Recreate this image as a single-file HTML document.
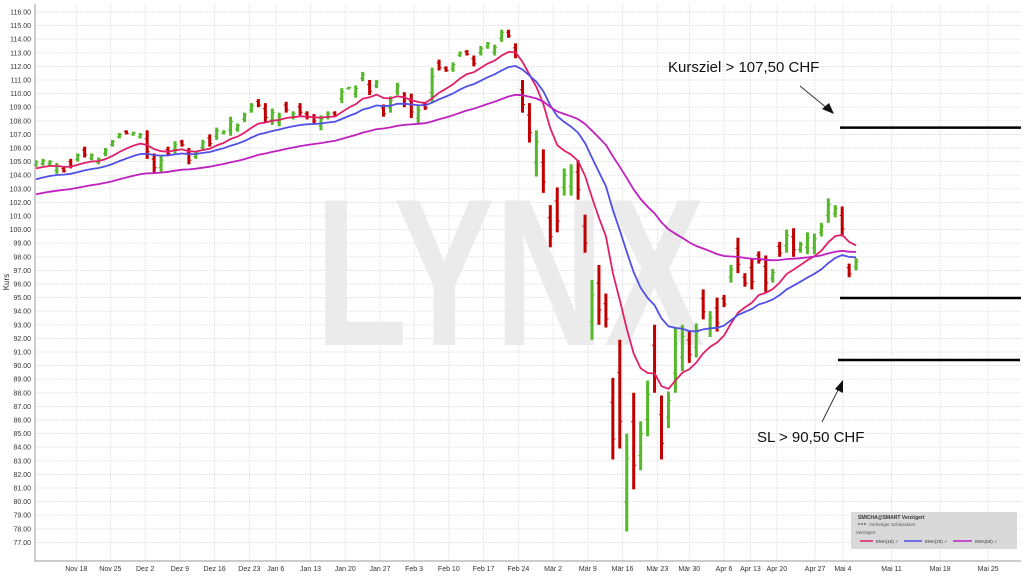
<!DOCTYPE html>
<html><head><meta charset="utf-8">
<style>
html,body{margin:0;padding:0;background:#fff;}
svg{display:block;font-family:"Liberation Sans",sans-serif;}
</style></head>
<body>
<svg id="chart" width="1024" height="576" viewBox="0 0 1024 576" xmlns="http://www.w3.org/2000/svg">
<rect x="0" y="0" width="1024" height="576" fill="#fff"/>
<g id="grid"></g>
<text x="510" y="345" font-size="210" font-weight="bold" fill="#ebebeb" text-anchor="middle" textLength="390" lengthAdjust="spacingAndGlyphs">LYNX</text>
<g id="bars"></g>
<g id="emas"></g>
<g id="axes"></g>
<text x="9" y="282" font-size="8" fill="#333" transform="rotate(-90 9 282)" text-anchor="middle">Kurs</text>
<line x1="840" y1="127.6" x2="1021" y2="127.6" stroke="#000" stroke-width="2.5"/>
<line x1="840" y1="298" x2="1021" y2="298" stroke="#000" stroke-width="2.5"/>
<line x1="838" y1="360" x2="1020" y2="360" stroke="#000" stroke-width="2.5"/>
<text x="668" y="72" font-size="15" fill="#111">Kursziel &gt; 107,50 CHF</text>
<line x1="800" y1="86" x2="828" y2="109" stroke="#333" stroke-width="1"/>
<polygon points="834,114 822,109 829,103" fill="#111"/>
<text x="757" y="442" font-size="15" fill="#111">SL &gt; 90,50 CHF</text>
<line x1="822" y1="422" x2="839" y2="388" stroke="#333" stroke-width="1"/>
<polygon points="843,380 843,393 835,389" fill="#111"/>
<g>
<rect x="851" y="512" width="166" height="37" fill="#d9d9d9"/>
<text x="858" y="519" font-size="5" font-weight="bold" fill="#333">SMICHA@SMART Verzögert</text>
<line x1="858" y1="524" x2="866" y2="524" stroke="#333" stroke-dasharray="2,1"/>
<text x="869" y="526" font-size="4.5" fill="#555">Vorheriger Schlusskurs</text>
<text x="856" y="534" font-size="4.5" fill="#555">Verzögert</text>
<line x1="860" y1="541" x2="873" y2="541" stroke="#e0206a" stroke-width="1.5"/>
<text x="876" y="543" font-size="4.5" fill="#333">EMA(10) ✓</text>
<line x1="904" y1="541" x2="922" y2="541" stroke="#5050e8" stroke-width="1.5"/>
<text x="925" y="543" font-size="4.5" fill="#333">EMA(20) ✓</text>
<line x1="953" y1="541" x2="972" y2="541" stroke="#c020c0" stroke-width="1.5"/>
<text x="975" y="543" font-size="4.5" fill="#333">EMA(50) ✓</text>
</g>
</svg>
<script>
const highs=[105.1,105.2,105.1,104.9,104.6,105.2,105.6,106.1,105.6,105.3,106.0,106.6,107.1,107.3,107.2,107.1,107.3,105.6,105.4,106.1,106.5,106.6,106.0,105.8,106.6,107.0,107.5,107.3,108.3,107.8,108.6,109.3,109.6,109.3,
108.9,108.6,109.4,108.7,109.3,108.7,108.5,108.4,108.7,108.7,110.4,110.5,110.6,111.6,111.0,111.0,109.2,109.8,110.8,110.1,110.0,109.1,109.4,111.9,112.5,112.0,112.3,113.1,113.2,112.8,113.5,113.8,113.6,114.7,114.7,113.7,111.0,
109.3,107.3,105.9,101.8,103.1,104.5,104.8,105.1,101.1,96.3,97.4,95.3,89.1,91.9,85.0,88.0,85.9,88.9,93.0,87.8,88.1,92.8,93.0,92.6,
93.1,95.6,94.0,95.0,95.2,97.4,99.4,96.8,97.9,98.4,98.1,97.1,99.1,100.0,100.1,99.1,99.8,99.7,100.5,102.3,101.8,101.7,97.5,97.9];
const lows=[104.6,104.7,104.7,104.1,104.2,104.5,105.0,105.3,105.1,104.8,105.4,106.1,106.7,107.0,106.9,106.7,105.2,104.2,104.2,105.4,105.6,106.1,104.8,105.2,105.8,106.1,106.6,107.0,106.9,107.2,107.9,108.6,109.0,107.9,
107.7,107.6,108.6,108.1,108.4,108.1,107.8,107.3,108.1,108.3,109.3,110.3,109.7,110.9,109.9,110.4,108.3,108.6,109.9,109.0,108.2,107.8,108.8,109.3,111.7,111.6,111.6,112.7,112.8,112.0,112.8,113.3,112.8,113.8,114.1,112.6,108.6,
106.4,103.9,102.7,98.7,99.8,102.5,102.5,102.2,98.3,91.9,93.0,92.8,83.1,83.9,77.8,80.9,82.3,84.8,88.0,83.1,85.4,88.0,89.6,90.2,
90.6,93.4,92.1,92.5,94.3,96.1,96.8,95.8,95.6,97.5,95.4,96.1,98.0,98.3,98.0,98.3,98.2,98.2,99.5,100.5,100.9,99.5,96.5,97.0];
const upDays=[1,1,1,1,0,0,1,0,1,1,1,1,1,0,1,1,0,0,1,0,1,0,0,1,1,0,1,1,1,1,1,1,0,0,
1,1,0,1,0,0,0,1,1,0,1,1,1,1,0,1,0,1,1,0,0,1,0,1,0,0,1,1,0,0,1,1,1,1,0,0,0,
0,1,0,0,0,1,1,0,0,1,0,0,0,0,1,0,1,1,0,0,1,1,1,0,
1,0,1,0,0,1,0,0,0,0,0,1,0,1,0,1,1,1,1,1,1,0,0,1];
const tickLabels=["Nov 18","Nov 25","Dez 2","Dez 9","Dez 16","Dez 23","Jan 6","Jan 13","Jan 20","Jan 27","Feb 3","Feb 10","Feb 17","Feb 24","Mär 2","Mär 9","Mär 16","Mär 23","Mär 30","Apr 6","Apr 13","Apr 20","Apr 27","Mai 4","Mai 11","Mai 18","Mai 25"];
const tickIdx=[5.8,10.7,15.7,20.7,25.7,30.7,34.5,39.5,44.5,49.5,54.4,59.4,64.4,69.4,74.4,79.4,84.4,89.4,94.0,99.0,102.8,106.6,112.1,116.1,123.1,130.1,137.0];
const yTicks=[77,78,79,80,81,82,83,84,85,86,87,88,89,90,91,92,93,94,95,96,97,98,99,100,101,102,103,104,105,106,107,108,109,110,111,112,113,114,115,116];
const emaPeriods=[10,20,50];
const emaSeeds=[104.5,103.7,102.6];
const emaColors=["#e0206a","#5050e8","#c020c0"];

const NS="http://www.w3.org/2000/svg";
const X0=36,DX=6.95,PL=35,PR=1021,PT=4,PB=561;
const xS=i=>X0+i*DX;
const yS=v=>12+(116-v)*13.6;
function mk(tag,attrs,parent){const e=document.createElementNS(NS,tag);for(const k in attrs)e.setAttribute(k,attrs[k]);parent.appendChild(e);return e;}
const grid=document.getElementById('grid'),axes=document.getElementById('axes'),bars=document.getElementById('bars'),emas=document.getElementById('emas');
yTicks.forEach(v=>{
  const l=mk('line',{x1:PL,x2:PR,y1:yS(v),y2:yS(v),stroke:'#dcdcdc','stroke-width':0.7,'stroke-dasharray':'2,1'},grid);
  
  
  const t=mk('text',{x:31,y:yS(v)+2.5,'font-size':7,fill:'#333','text-anchor':'end'},axes);
  t.textContent=v.toFixed(2);
  
  
});
tickIdx.forEach((ix,k)=>{
  const x=xS(ix);
  const l=mk('line',{x1:x,x2:x,y1:PT,y2:PB,stroke:'#dcdcdc','stroke-width':0.7,'stroke-dasharray':'2,1'},grid);
  
  
  const t=mk('text',{x:x,y:571,'font-size':7,fill:'#333','text-anchor':'middle'},axes);
  t.textContent=tickLabels[k];
  
  
});
const ax=mk('path',{d:`M${PL},${PT}V${PB}H${PR}`,fill:'none',stroke:'#999','stroke-width':1},axes);



const closes=highs.map((h,i)=>upDays[i]?h-(h-lows[i])*0.25:lows[i]+(h-lows[i])*0.25);
const opens=highs.map((h,i)=>upDays[i]?lows[i]+(h-lows[i])*0.3:h-(h-lows[i])*0.3);
highs.forEach((h,i)=>{
  const x=xS(i),c=upDays[i]?'#55b82a':'#c00000';
  const b=mk('line',{x1:x,x2:x,y1:yS(h),y2:yS(lows[i]),stroke:c,'stroke-width':3},bars);
  
  
  mk('line',{x1:x-2.5,x2:x,y1:yS(opens[i]),y2:yS(opens[i]),stroke:c,'stroke-width':1},bars);
  mk('line',{x1:x,x2:x+2.5,y1:yS(closes[i]),y2:yS(closes[i]),stroke:c,'stroke-width':1},bars);
});
emaPeriods.forEach((p,k)=>{
  const a=2/(p+1);let e=emaSeeds[k];const pts=[];
  closes.forEach((c,i)=>{e=i===0?e:e+a*(c-e);pts.push(xS(i).toFixed(1)+','+yS(e).toFixed(1));});
  const pl=mk('polyline',{points:pts.join(' '),fill:'none',stroke:emaColors[k],'stroke-width':1.8},emas);
  
  
});
</script>
</body></html>
